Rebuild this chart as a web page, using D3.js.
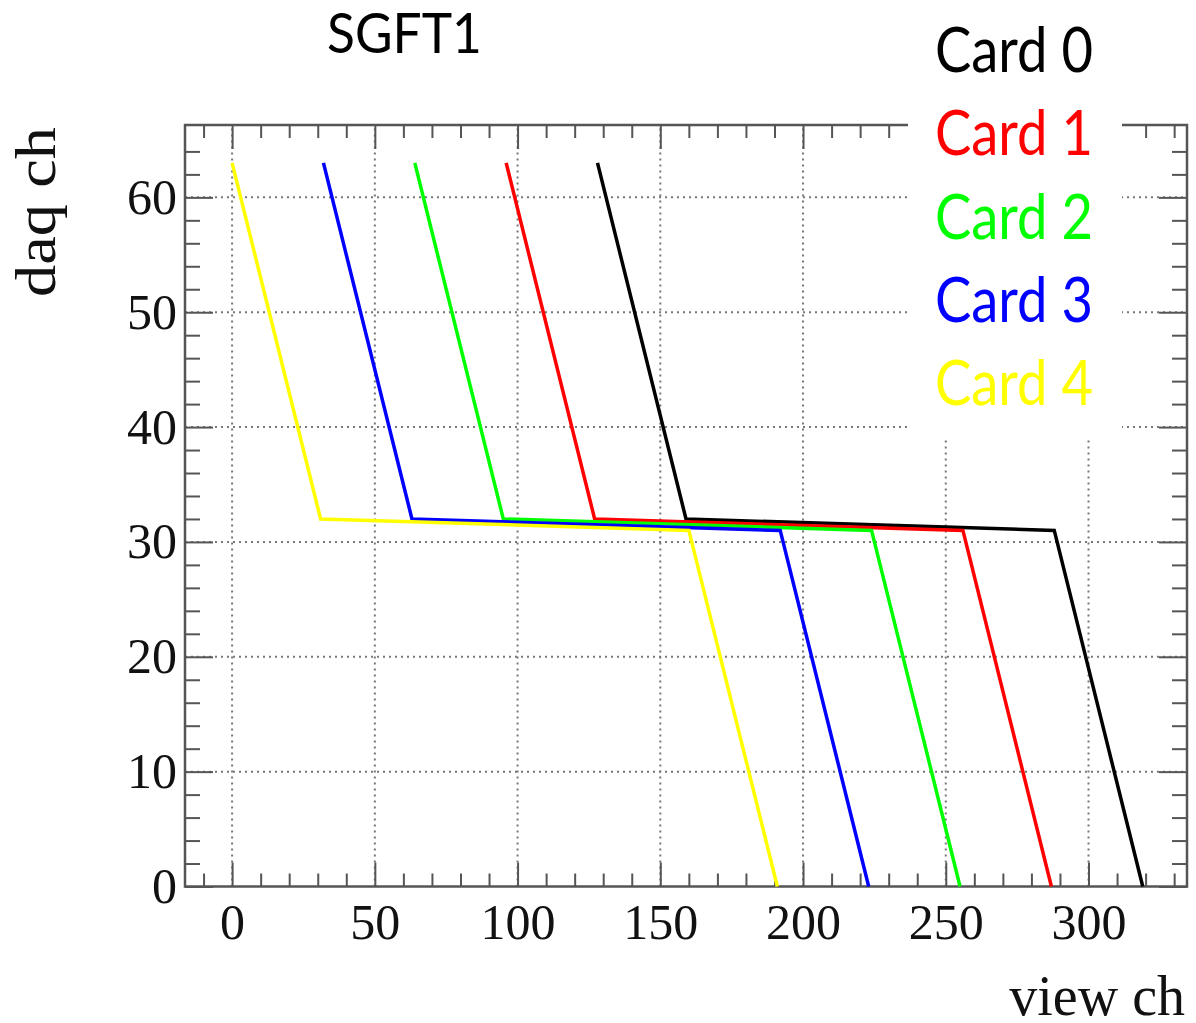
<!DOCTYPE html>
<html>
<head>
<meta charset="utf-8">
<script src="https://cdn.jsdelivr.net/npm/d3@7"></script>
<style>
  body { margin: 0; background: #fff; }
  svg { display: block; }
</style>
</head>
<body>
<svg width="1196" height="1023"></svg>
<script>
// card names, in legend order
var cards = ["Card 0", "Card 1", "Card 2", "Card 3", "Card 4"];
var colors = ["#000000", "#ff0000", "#00ff00", "#0000ff", "#ffff00"];

// corner points of each card's mapping (view ch -> daq ch)
var viewCh0 = [128, 159, 288, 319];
var viewCh1 = [96, 127, 256, 287];
var viewCh2 = [64, 95, 224, 255];
var viewCh3 = [32, 63, 192, 223];
var viewCh4 = [0, 31, 160, 191];
var daqCh = [63, 32, 31, 0];

var xMajor = [0, 50, 100, 150, 200, 250, 300];
var yMajor = [0, 10, 20, 30, 40, 50, 60];

var views = [viewCh0, viewCh1, viewCh2, viewCh3, viewCh4];

var svg = d3.select("svg");

var x = d3.scaleLinear().domain([-16.5, 334.5]).range([185, 1187]);
var y = d3.scaleLinear().domain([0, 66.3]).range([886.5, 125]);

var xMinor = d3.range(-10, 335, 10).filter(function(d) { return d % 50 !== 0; });
var yMinor = d3.range(2, 66, 2).filter(function(d) { return d % 10 !== 0; });

// grid
var grid = svg.append("g")
    .attr("stroke", "#777")
    .attr("stroke-width", 2)
    .attr("stroke-dasharray", "2,4");
grid.selectAll(".gx").data(xMajor).enter().append("line")
    .attr("x1", function(d) { return x(d); })
    .attr("x2", function(d) { return x(d); })
    .attr("y1", y.range()[0])
    .attr("y2", y.range()[1]);
grid.selectAll(".gy").data(yMajor.slice(1)).enter().append("line")
    .attr("y1", function(d) { return y(d); })
    .attr("y2", function(d) { return y(d); })
    .attr("x1", x.range()[0])
    .attr("x2", x.range()[1]);

// axes (ticks inside the frame, ROOT style)
function styleAxis(g) {
  g.select(".domain").remove();
  g.selectAll("line").attr("stroke", "#555").attr("stroke-width", 2);
  g.selectAll("text")
    .attr("fill", "#111")
    .style("font-family", "'Liberation Serif', 'Times New Roman', serif")
    .style("font-size", "50px");
}

svg.append("g")
    .attr("transform", "translate(0," + y(0) + ")")
    .call(d3.axisBottom(x).tickValues(xMajor).tickSize(-24).tickPadding(16).tickFormat(d3.format("d")))
    .call(styleAxis)
    .selectAll("text").attr("dy", "0.72em");
svg.append("g")
    .attr("transform", "translate(0," + y(0) + ")")
    .call(d3.axisBottom(x).tickValues(xMinor).tickSize(-13).tickFormat(""))
    .call(styleAxis);
svg.append("g")
    .attr("transform", "translate(0," + y.range()[1] + ")")
    .call(d3.axisTop(x).tickValues(xMajor).tickSize(-24).tickFormat(""))
    .call(styleAxis);
svg.append("g")
    .attr("transform", "translate(0," + y.range()[1] + ")")
    .call(d3.axisTop(x).tickValues(xMinor).tickSize(-13).tickFormat(""))
    .call(styleAxis);

svg.append("g")
    .attr("transform", "translate(" + x.range()[0] + ",0)")
    .call(d3.axisLeft(y).tickValues(yMajor).tickSize(-28).tickPadding(8).tickFormat(d3.format("d")))
    .call(styleAxis);
svg.append("g")
    .attr("transform", "translate(" + x.range()[0] + ",0)")
    .call(d3.axisLeft(y).tickValues(yMinor).tickSize(-15).tickFormat(""))
    .call(styleAxis);
svg.append("g")
    .attr("transform", "translate(" + x.range()[1] + ",0)")
    .call(d3.axisRight(y).tickValues(yMajor).tickSize(-28).tickFormat(""))
    .call(styleAxis);
svg.append("g")
    .attr("transform", "translate(" + x.range()[1] + ",0)")
    .call(d3.axisRight(y).tickValues(yMinor).tickSize(-15).tickFormat(""))
    .call(styleAxis);

// frame
svg.append("rect")
    .attr("x", x.range()[0])
    .attr("y", y.range()[1])
    .attr("width", x.range()[1] - x.range()[0])
    .attr("height", y.range()[0] - y.range()[1])
    .attr("fill", "none")
    .attr("stroke", "#555")
    .attr("stroke-width", 2.5);

// lines
var line = d3.line()
    .x(function(d) { return x(d[0]); })
    .y(function(d) { return y(d[1]); });

views.forEach(function(v, i) {
  svg.append("path")
      .datum(d3.zip(v, daqCh))
      .attr("d", line)
      .attr("fill", "none")
      .attr("stroke", colors[i])
      .attr("stroke-width", 3.5);
});

// legend box covers frame and grid
svg.append("rect")
    .attr("x", 908).attr("y", 0)
    .attr("width", 214).attr("height", 440)
    .attr("fill", "#fff");

svg.selectAll(".leg")
    .data(cards)
    .enter().append("text")
    .attr("x", 935)
    .attr("y", function(d, i) { return 72 + i * 83.3; })
    .attr("fill", function(d, i) { return colors[i]; })
    .attr("textLength", 158)
    .attr("lengthAdjust", "spacingAndGlyphs")
    .style("font-family", "Lato, 'Open Sans', sans-serif")
    .style("font-size", "61px")
    .text(function(d) { return d; });

// title
svg.append("text")
    .attr("x", 327).attr("y", 53)
    .attr("textLength", 155)
    .attr("lengthAdjust", "spacingAndGlyphs")
    .style("font-family", "Lato, 'Open Sans', sans-serif")
    .style("font-size", "57px")
    .text("SGFT1");

// axis titles
svg.append("text")
    .attr("x", 1185).attr("y", 1015)
    .attr("text-anchor", "end")
    .style("font-family", "'Liberation Serif', 'Times New Roman', serif")
    .style("font-size", "56px")
    .attr("fill", "#111")
    .text("view ch");

svg.append("text")
    .attr("transform", "translate(55,127) rotate(-90)")
    .attr("text-anchor", "end")
    .attr("textLength", 170)
    .attr("lengthAdjust", "spacingAndGlyphs")
    .style("font-family", "'Liberation Serif', 'Times New Roman', serif")
    .style("font-size", "56px")
    .attr("fill", "#111")
    .text("daq ch");
</script>
</body>
</html>
